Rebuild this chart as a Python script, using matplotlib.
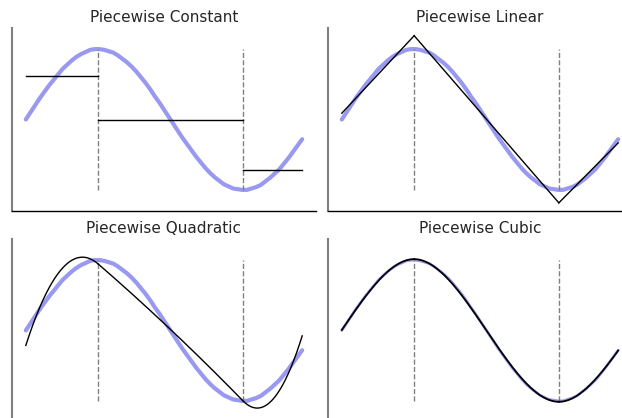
import numpy as np
import matplotlib
matplotlib.use("Agg")
import matplotlib.pyplot as plt

x_data = [round(0.1 * i, 1) for i in range(61)]
y_data = [0.00, 0.10, 0.20, 0.30, 0.39, 0.48, 0.56, 0.64, 0.72, 0.78,
          0.84, 0.89, 0.93, 0.96, 0.99, 1.00, 1.00, 0.99, 0.97, 0.95,
          0.91, 0.86, 0.81, 0.75, 0.68, 0.60, 0.52, 0.43, 0.33, 0.24,
          0.14, 0.04, -0.06, -0.16, -0.26, -0.35, -0.44, -0.53, -0.61, -0.69,
          -0.76, -0.82, -0.87, -0.92, -0.95, -0.98, -0.99, -1.00, -1.00, -0.98,
          -0.96, -0.93, -0.88, -0.83, -0.77, -0.71, -0.63, -0.55, -0.46, -0.37,
          -0.28]
knots = [1.571, 4.712]
titles = ["Piecewise Constant", "Piecewise Linear", "Piecewise Quadratic", "Piecewise Cubic"]
degrees = [0, 1, 2, 3]

x = np.array(x_data)
y = np.array(y_data)


def basis(xv, d):
    xv = np.asarray(xv, dtype=float)
    if d == 0:
        cols = [np.ones_like(xv)] + [(xv >= k).astype(float) for k in knots]
    else:
        cols = [xv ** p for p in range(d + 1)] + [np.clip(xv - k, 0, None) ** d for k in knots]
    return np.column_stack(cols)


fig = plt.figure(figsize=(6.22, 4.18), dpi=100)
W, H = 622, 418
pos = [(12, 211), (328, 211), (12, 422), (328, 422)]
aw, ah = 304, 183

for i, (d, title) in enumerate(zip(degrees, titles)):
    l, b = pos[i]
    ax = fig.add_axes([l / W, (H - b) / H, aw / W, ah / H])
    sine_lw = 2.0 if d == 3 else 3.0
    ax.plot(x, y, color=(0.6, 0.6, 0.95), lw=sine_lw, solid_capstyle='round', zorder=1)
    ax.vlines(knots, -1, 1, colors='gray', linestyles='--', lw=1, zorder=2)
    coef, *_ = np.linalg.lstsq(basis(x, d), y, rcond=None)
    edges = [x.min()] + knots + [x.max()]
    for a, bb in zip(edges[:-1], edges[1:]):
        xs = np.linspace(a, bb - 1e-9, 200)
        ax.plot(xs, basis(xs, d) @ coef, color='black', lw=1.3 if d == 3 else 1.0, zorder=3)
    ax.set_xlim(-0.3, 6.3)
    ax.set_ylim(-1.3, 1.3)
    ax.set_xticks([])
    ax.set_yticks([])
    ax.spines['top'].set_visible(False)
    ax.spines['right'].set_visible(False)
    ax.spines['left'].set_color('gray')
    ax.spines['left'].set_linewidth(1.5)
    ax.spines['bottom'].set_color('black')
    ax.spines['bottom'].set_linewidth(1.0)
    ax.set_title(title, fontsize=11, color='#262626', pad=4.5)

fig.savefig("out.png", dpi=100)
